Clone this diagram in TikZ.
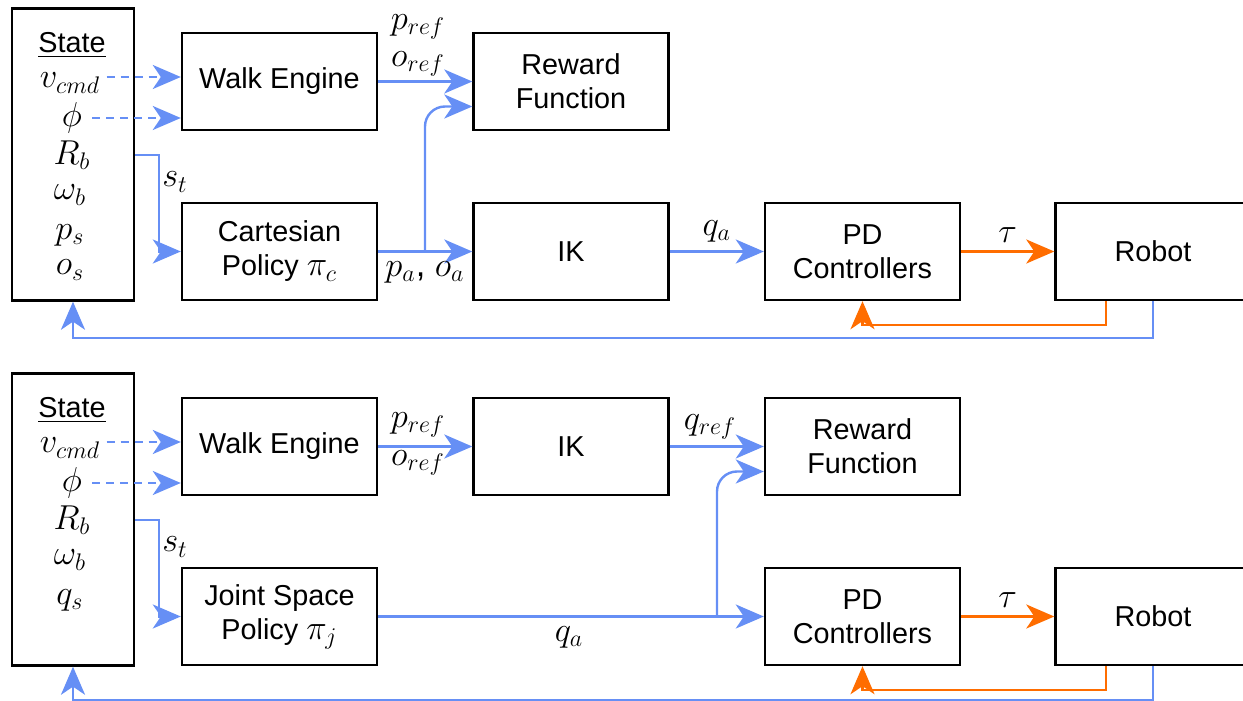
\documentclass[tikz,border=0pt]{standalone}
\usepackage{fontspec}
\setmainfont{Liberation Sans}
\usepackage{tikz}
\usetikzlibrary{arrows.meta,positioning}

\definecolor{flowblue}{RGB}{102,143,245}
\definecolor{torqueorange}{RGB}{255,109,0}

\tikzset{
  box/.style={draw, line width=1.2pt, minimum width=97.5pt, minimum height=48.5pt,
    align=center, font=\fontsize{14.4}{17}\selectfont, inner sep=2pt},
  statebox/.style={draw, line width=1.2pt, minimum width=61pt, minimum height=146pt},
  mathlbl/.style={font=\fontsize{17.28}{20}\selectfont, inner sep=1pt},
  flow/.style={draw=flowblue, line width=1.2pt, -{Stealth[length=14pt,width=12pt,inset=4pt]}},
  cmdflow/.style={flow, dash pattern=on 4pt off 3pt},
  torque/.style={draw=torqueorange, line width=1.2pt, -{Stealth[length=14pt,width=12pt,inset=4pt]}}
}
\newcommand{\bigpi}[1]{{\fontsize{17.28}{17}\selectfont$\pi_{#1}$}}

\begin{document}
\begin{tikzpicture}[x=0.5pt,y=-0.5pt]
  \useasboundingbox (0,0) rectangle (1243,701);
  \clip (0,0) rectangle (1243,701);

  % Cartesian policy
  \node (state1) [statebox] at (73,154.5) {};
  \node (lbl1) [font=\fontsize{14.4}{17}\selectfont] at (72,45) {\underline{State}};
  \node (vcmd1) [mathlbl] at (70,83) {$v_{cmd}$};
  \node (phi1) [mathlbl] at (72,118) {$\phi$};
  \node (Rb1) [mathlbl] at (72,155) {$R_b$};
  \node (wb1) [mathlbl] at (70,195) {$\omega_b$};
  \node (ps1) [mathlbl] at (70,235) {$p_s$};
  \node (os1) [mathlbl] at (70,270) {$o_s$};

  \node (walk1) [box] at (279.5,81.5) {Walk Engine};
  \node (reward1) [box] at (571,81.5) {Reward\\Function};
  \node (cart1) [box] at (279.5,251.5) {Cartesian\\Policy \bigpi{c}};
  \node (ik1) [box] at (571,251.5) {IK};
  \node (pd1) [box] at (862.5,251.5) {PD\\Controllers};
  \node (robot1) [box] at (1153,251.5) {Robot};

  \draw[cmdflow] ([yshift=3pt]vcmd1.east) ++(4,0) -- ([yshift=3pt]vcmd1.east -| walk1.west);
  \draw[cmdflow] (phi1.east) ++(8,0) -- (phi1.east -| walk1.west);
  \draw[flow] (state1.east |- Rb1) -- ++(24,0) |- (cart1.west);
  \node (st1) [mathlbl] at (175,182) {$s_t$};
  \draw[flow] (walk1.east) -- (reward1.west);
  \node (pref1) [mathlbl] at (418,27) {$p_{ref}$};
  \node (oref1) [mathlbl] at (418,64) {$o_{ref}$};
  \draw[flow] (cart1.east) -- (ik1.west);
  \coordinate (split1) at (425,251.5);
  \draw[flow, rounded corners=10pt] (split1) |- ([yshift=-12.5pt]reward1.west);
  \node (pa1) [mathlbl] at (425,272) {$p_a$, $o_a$};
  \draw[flow] (ik1.east) -- (pd1.west) node[mathlbl, midway, above=3pt] {$q_a$};
  \draw[torque] (pd1.east) -- (robot1.west) node[mathlbl, midway, above=3pt] {$\tau$};
  \draw[torque] ([xshift=-23.5pt]robot1.south) -- ++(0,24) -| (pd1.south);
  \draw[flow] (robot1.south) -- ++(0,37) -| (state1.south);

  % Joint space policy
  \node (state2) [statebox] at (73,519.5) {};
  \node (lbl2) [font=\fontsize{14.4}{17}\selectfont] at (72,410) {\underline{State}};
  \node (vcmd2) [mathlbl] at (70,448) {$v_{cmd}$};
  \node (phi2) [mathlbl] at (72,483) {$\phi$};
  \node (Rb2) [mathlbl] at (72,520) {$R_b$};
  \node (wb2) [mathlbl] at (70,560) {$\omega_b$};
  \node (qs2) [mathlbl] at (70,600) {$q_s$};

  \node (walk2) [box] at (279.5,446.5) {Walk Engine};
  \node (ik2) [box] at (571,446.5) {IK};
  \node (reward2) [box] at (862.5,446.5) {Reward\\Function};
  \node (joint2) [box] at (279.5,616.5) {Joint Space\\Policy \bigpi{j}};
  \node (pd2) [box] at (862.5,616.5) {PD\\Controllers};
  \node (robot2) [box] at (1153,616.5) {Robot};

  \draw[cmdflow] ([yshift=3pt]vcmd2.east) ++(4,0) -- ([yshift=3pt]vcmd2.east -| walk2.west);
  \draw[cmdflow] (phi2.east) ++(8,0) -- (phi2.east -| walk2.west);
  \draw[flow] (state2.east |- Rb2) -- ++(24,0) |- (joint2.west);
  \node (st2) [mathlbl] at (175,547) {$s_t$};
  \draw[flow] (walk2.east) -- (ik2.west);
  \node (pref2) [mathlbl] at (418,425) {$p_{ref}$};
  \node (oref2) [mathlbl] at (418,463) {$o_{ref}$};
  \draw[flow] (ik2.east) -- (reward2.west);
  \node (qref2) [mathlbl] at (710,427) {$q_{ref}$};
  \draw[flow] (joint2.east) -- (pd2.west);
  \node (qa2) [mathlbl] at (569,637) {$q_a$};
  \coordinate (split2) at (717,616.5);
  \draw[flow, rounded corners=10pt] (split2) |- ([yshift=-12.5pt]reward2.west);
  \draw[torque] (pd2.east) -- (robot2.west) node[mathlbl, midway, above=3pt] {$\tau$};
  \draw[torque] ([xshift=-23.5pt]robot2.south) -- ++(0,24) -| (pd2.south);
  \draw[flow] (robot2.south) -- ++(0,34) -| (state2.south);
\end{tikzpicture}
\end{document}
